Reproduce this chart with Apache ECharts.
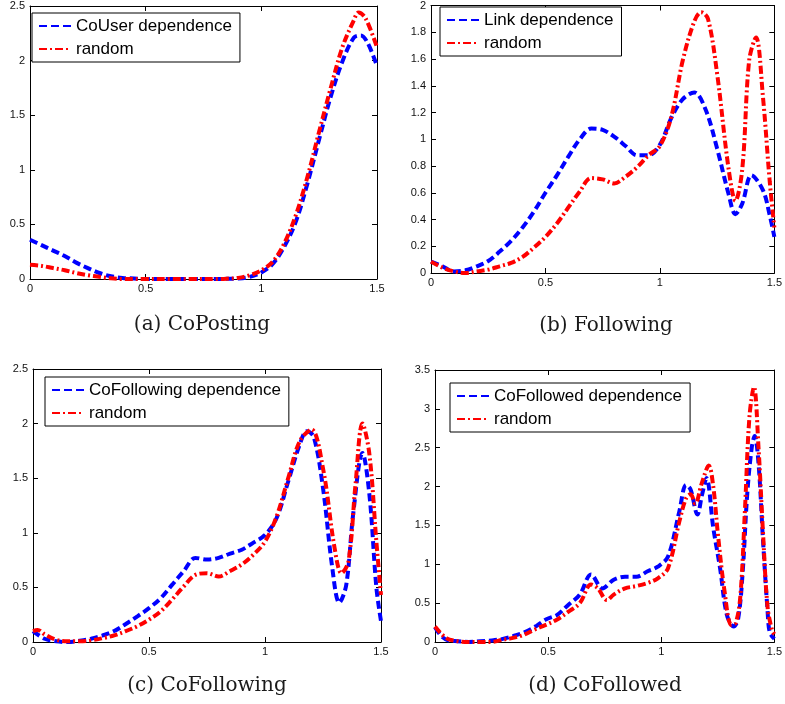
<!DOCTYPE html>
<html>
<head>
<meta charset="utf-8">
<script src="https://cdn.jsdelivr.net/npm/echarts@6/dist/echarts.min.js"></script>
<style>html,body{margin:0;padding:0;background:#fff}#c{width:785px;height:704px}</style>
</head>
<body>
<div id="c"></div>
<script>
// ---- Data ----
const xTicks = [0, 0.5, 1, 1.5];
const captions = ['(a) CoPosting', '(b) Following', '(c) CoFollowing', '(d) CoFollowed'];
const depNames = ['CoUser dependence', 'Link dependence', 'CoFollowing dependence', 'CoFollowed dependence'];
const rndName = 'random';
const yMax = [2.5, 2, 2.5, 3.5];
const yStep = [0.5, 0.2, 0.5, 0.5];

// (a) CoPosting
const aDepX = [0,0.05,0.1,0.15,0.2,0.25,0.3,0.35,0.4,0.45,0.5,0.6,0.7,0.8,0.85,0.9,0.95,1.0,1.05,1.1,1.15,1.2,1.25,1.3,1.35,1.4,1.43,1.46,1.5];
const aDepY = [0.36,0.31,0.26,0.21,0.15,0.10,0.055,0.025,0.01,0.005,0,0,0,0,0.002,0.005,0.02,0.06,0.14,0.30,0.53,0.88,1.28,1.67,1.99,2.21,2.23,2.16,1.95];
const aRndX = [0,0.05,0.1,0.15,0.2,0.25,0.3,0.35,0.4,0.5,0.6,0.7,0.8,0.85,0.9,0.95,1.0,1.05,1.1,1.15,1.2,1.25,1.3,1.35,1.4,1.42,1.45,1.5];
const aRndY = [0.13,0.12,0.10,0.08,0.055,0.035,0.02,0.006,0,0,0,0,0,0.003,0.01,0.035,0.08,0.16,0.33,0.59,0.94,1.35,1.75,2.12,2.37,2.44,2.39,2.12];

// (b) Following
const bDepX = [0,0.05,0.1,0.15,0.2,0.25,0.3,0.35,0.4,0.45,0.5,0.55,0.6,0.65,0.7,0.75,0.8,0.85,0.9,0.95,1.0,1.05,1.1,1.15,1.2,1.25,1.3,1.33,1.36,1.4,1.45,1.48,1.5];
const bDepY = [0.085,0.05,0.012,0.02,0.05,0.09,0.16,0.24,0.34,0.46,0.60,0.73,0.87,1.0,1.08,1.07,1.02,0.95,0.88,0.88,0.96,1.16,1.30,1.35,1.22,0.93,0.59,0.44,0.52,0.73,0.62,0.43,0.27];
const bRndX = [0,0.05,0.1,0.15,0.2,0.25,0.3,0.35,0.4,0.45,0.5,0.55,0.6,0.65,0.7,0.75,0.8,0.85,0.9,0.95,1.0,1.05,1.1,1.15,1.18,1.21,1.25,1.3,1.33,1.36,1.39,1.42,1.45,1.48,1.5];
const bRndY = [0.085,0.04,0.012,0.0,0.012,0.025,0.05,0.075,0.12,0.19,0.27,0.37,0.49,0.61,0.71,0.70,0.67,0.72,0.79,0.88,0.95,1.17,1.59,1.88,1.95,1.90,1.49,0.78,0.54,0.78,1.59,1.76,1.32,0.68,0.34];

// (c) CoFollowing
const cDepX = [0,0.05,0.1,0.15,0.2,0.25,0.3,0.35,0.4,0.45,0.5,0.55,0.6,0.65,0.7,0.75,0.8,0.85,0.9,0.95,1.0,1.05,1.1,1.15,1.18,1.21,1.25,1.29,1.32,1.35,1.38,1.42,1.45,1.48,1.5];
const cDepY = [0.10,0.03,0.006,0,0.012,0.03,0.06,0.10,0.165,0.235,0.31,0.40,0.525,0.65,0.77,0.755,0.77,0.81,0.845,0.91,0.98,1.135,1.47,1.81,1.93,1.88,1.41,0.68,0.36,0.52,1.17,1.73,1.35,0.5,0.19];
const cRndX = [0,0.02,0.05,0.1,0.15,0.2,0.25,0.3,0.35,0.4,0.45,0.5,0.55,0.6,0.65,0.7,0.75,0.8,0.85,0.9,0.95,1.0,1.05,1.1,1.15,1.2,1.25,1.3,1.33,1.36,1.39,1.42,1.45,1.48,1.5];
const cRndY = [0.10,0.11,0.07,0.02,0.006,0.006,0.015,0.035,0.06,0.10,0.145,0.205,0.28,0.39,0.51,0.615,0.63,0.60,0.65,0.71,0.80,0.92,1.15,1.50,1.84,1.945,1.59,0.86,0.63,0.74,1.44,2.0,1.72,0.92,0.43];

// (d) CoFollowed
const dDepX = [0,0.03,0.06,0.1,0.15,0.2,0.25,0.3,0.35,0.4,0.45,0.49,0.54,0.59,0.64,0.69,0.74,0.79,0.84,0.89,0.94,0.985,1.03,1.08,1.11,1.13,1.16,1.18,1.2,1.23,1.26,1.29,1.32,1.34,1.36,1.38,1.40,1.413,1.43,1.45,1.47,1.48,1.5];
const dDepY = [0.19,0.07,0.02,0.01,0,0.01,0.02,0.04,0.08,0.13,0.21,0.29,0.35,0.48,0.61,0.87,0.69,0.80,0.84,0.84,0.91,0.97,1.10,1.68,2.02,1.96,1.64,1.89,2.11,1.47,0.95,0.35,0.2,0.3,0.9,1.9,2.5,2.65,2.3,1.3,0.4,0.12,0.04];
const dRndX = [0,0.05,0.1,0.15,0.2,0.25,0.3,0.34,0.39,0.44,0.49,0.54,0.59,0.64,0.69,0.72,0.76,0.79,0.84,0.89,0.94,0.985,1.03,1.08,1.11,1.13,1.15,1.18,1.21,1.23,1.25,1.28,1.31,1.33,1.35,1.37,1.39,1.41,1.43,1.45,1.47,1.49,1.5];
const dRndY = [0.20,0.05,0.01,0,0,0,0.03,0.05,0.09,0.16,0.22,0.29,0.39,0.50,0.74,0.69,0.54,0.61,0.69,0.72,0.76,0.82,0.95,1.55,1.85,1.9,1.78,2.05,2.27,2.0,1.4,0.65,0.22,0.25,0.6,1.7,2.9,3.28,2.5,1.4,0.45,0.15,0.1];

const depSets = [[aDepX,aDepY],[bDepX,bDepY],[cDepX,cDepY],[dDepX,dDepY]];
const rndSets = [[aRndX,aRndY],[bRndX,bRndY],[cRndX,cRndY],[dRndX,dRndY]];

// ---- Layout ----
const grids = [
  {left:30, top:6, width:347, height:273},
  {left:431, top:0, width:347, height:273},
  {left:33, top:369, width:348, height:273},
  {left:435, top:370, width:347, height:272}
];
const legendPos = [[32,13],[440,7],[45,377],[450,383]];
const captionPos = [[202,325],[606,326],[207,686],[605,686]];

const zip = (xs, ys) => xs.map((x, i) => [x, ys[i]]);
const tickFont = {fontFamily:'Liberation Sans', fontSize:11, color:'#111'};

const option = {
  animation:false,
  backgroundColor:'#fff',
  grid: grids.map(g => Object.assign({containLabel:false}, g)),
  xAxis: [], yAxis: [], series: [], legend: [],
  graphic: captions.map((t,i) => ({
    type:'text', x:captionPos[i][0], y:captionPos[i][1],
    style:{text:t, font:'20px "DejaVu Serif"', fill:'#1a1a1a', textAlign:'center', textVerticalAlign:'middle'}
  }))
};

grids.forEach((g, i) => {
  const axLine = {show:true, onZero:false, lineStyle:{color:'#000', width:1}};
  const tick = {show:true, inside:true, length:5, lineStyle:{color:'#000'}};
  option.xAxis.push({type:'value', gridIndex:i, position:'bottom', min:0, max:1.5, interval:0.5,
    axisLine:axLine, axisTick:tick, splitLine:{show:false},
    axisLabel:Object.assign({margin:4, formatter: v => String(+v.toFixed(2))}, tickFont)});
  option.xAxis.push({type:'value', gridIndex:i, position:'top', min:0, max:1.5, interval:0.5,
    axisLine:axLine, axisTick:tick, splitLine:{show:false}, axisLabel:{show:false}});
  option.yAxis.push({type:'value', gridIndex:i, position:'left', min:0, max:yMax[i], interval:yStep[i],
    axisLine:axLine, axisTick:tick, splitLine:{show:false},
    axisLabel:Object.assign({margin:5, formatter: v => String(+v.toFixed(2))}, tickFont)});
  option.yAxis.push({type:'value', gridIndex:i, position:'right', min:0, max:yMax[i], interval:yStep[i],
    axisLine:axLine, axisTick:tick, splitLine:{show:false}, axisLabel:{show:false}});

  option.series.push({
    type:'line', name:depNames[i], xAxisIndex:2*i, yAxisIndex:2*i,
    data:zip(depSets[i][0], depSets[i][1]), symbol:'none', smooth:0.35, clip:true,
    lineStyle:{color:'#0000ff', width:4, type:[8,4]}, itemStyle:{color:'#0000ff'}
  });
  option.series.push({
    type:'line', name:rndName, xAxisIndex:2*i, yAxisIndex:2*i,
    data:zip(rndSets[i][0], rndSets[i][1]), symbol:'none', smooth:0.35, clip:true,
    lineStyle:{color:'#ff0000', width:4, type:[8,3,2,3]}, itemStyle:{color:'#ff0000'}
  });
  option.legend.push({
    data:[depNames[i], rndName], orient:'vertical', left:legendPos[i][0], top:legendPos[i][1],
    selectedMode:false, backgroundColor:'#fff', borderColor:'#000', borderWidth:1, borderRadius:0,
    padding:[4,8,4,6], itemWidth:32, itemHeight:14, itemGap:5,
    itemStyle:{opacity:0, borderWidth:0},
    textStyle:{fontFamily:'Liberation Sans', fontSize:17, color:'#000', lineHeight:18}
  });
});

const chart = echarts.init(document.getElementById('c'), null, {renderer:'canvas'});
chart.setOption(option);
</script>
</body>
</html>
